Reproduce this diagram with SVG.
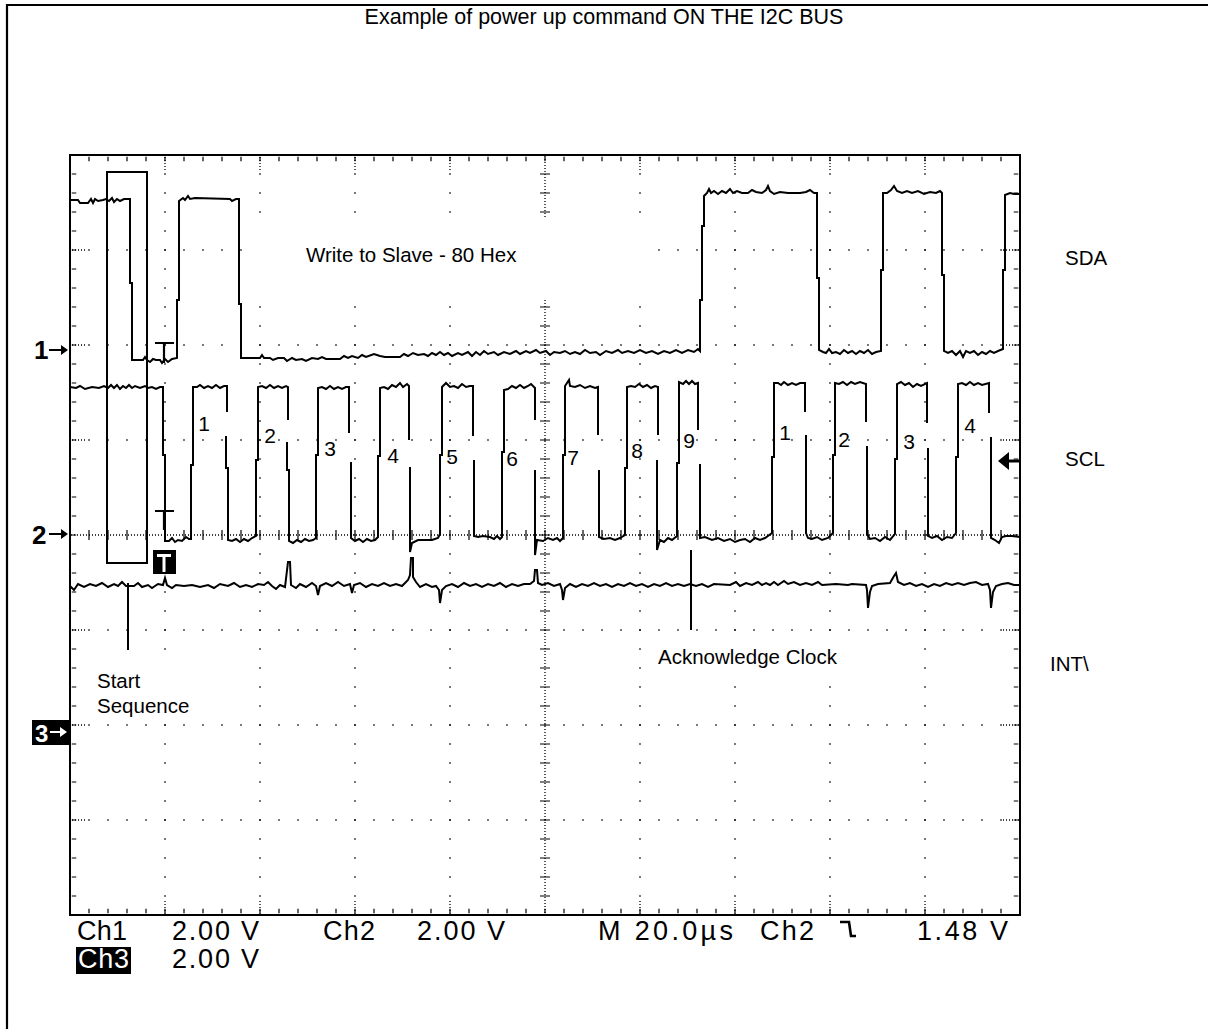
<svg xmlns="http://www.w3.org/2000/svg" width="1208" height="1029" viewBox="0 0 1208 1029">
<style>
.tr{fill:none;stroke:#000;stroke-width:2;stroke-linejoin:miter}
.ln{fill:none;stroke:#000;stroke-width:2}
.gd{fill:none;stroke:#000;stroke-width:1.4;stroke-dasharray:1.4 17.6}
.tk{fill:none;stroke:#000;stroke-width:1.3;stroke-dasharray:1 2}
.lbl{font-family:"Liberation Sans",Arial,sans-serif;font-size:20.5px;fill:#000}
.dg{font-family:"Liberation Sans",Arial,sans-serif;font-size:21px;fill:#000;text-anchor:middle}
.bot{font-family:"Liberation Sans",Arial,sans-serif;font-size:27px;fill:#000}
.ch{font-family:"Liberation Sans",Arial,sans-serif;font-size:26px;font-weight:bold}
</style>
<rect width="1208" height="1029" fill="#fff"/>
<g id="frame"><path d="M7,1029 L7,5 L1208,5" fill="none" stroke="#000" stroke-width="2.2"/></g>
<g id="title"><text x="604" y="24" class="lbl" style="font-size:21.5px" text-anchor="middle">Example of power up command ON THE I2C BUS</text></g>
<g id="graticule">
<rect x="70" y="155" width="950" height="760" fill="none" stroke="#000" stroke-width="2"/>
<g class="gd">
<path d="M165,154.3V916M260,154.3V916M355,154.3V916M450,154.3V916M640,154.3V916M735,154.3V916M830,154.3V916M925,154.3V916"/>
<path d="M69.3,250H1021M69.3,345H1021M69.3,440H1021M69.3,630H1021M69.3,725H1021M69.3,820H1021"/>
</g>
<g fill="none" stroke="#000" stroke-width="4.5" stroke-dasharray="1.2 17.8">
<path d="M69.4,159H1021M69.4,911H1021"/>
<path d="M74,154.4V916M1016,154.4V916"/>
</g>
<g class="tk">
<path d="M165,157V170M260,157V170M355,157V170M450,157V170M640,157V170M735,157V170M830,157V170M925,157V170"/>
<path d="M165,901V914M260,901V914M355,901V914M450,901V914M640,901V914M735,901V914M830,901V914M925,901V914"/>
<path d="M72,250H87M72,345H87M72,440H87M72,630H87M72,725H87M72,820H87"/>
<path d="M1003,250H1019M1003,345H1019M1003,440H1019M1003,630H1019M1003,725H1019M1003,820H1019"/>
<path d="M545,156V915M71,535H1019"/>
</g>
<g fill="none" stroke="#000" stroke-width="10" stroke-dasharray="1.2 17.8">
<path d="M545,154.4V916"/>
<path d="M69.4,535H1021"/>
</g>
</g>
<g id="label-backgrounds" fill="#fff">
<rect x="244" y="219" width="405" height="80"/>
<rect x="652" y="642" width="192" height="31"/>
<rect x="92" y="667" width="100" height="52"/>
</g>
<g id="markers">
<rect x="107" y="172" width="40" height="391" class="ln"/>
<path d="M155,343H174M164,343V363M155,511H174M164,511V530" fill="none" stroke="#000" stroke-width="2.2"/>
<rect x="153" y="550" width="23" height="24" fill="#000"/>
<path d="M157,555.5H171M164,555V572" fill="none" stroke="#fff" stroke-width="3"/>
<path d="M128,583V650M691,550V630" class="ln"/>
<text x="34" y="359" class="ch">1</text>
<path d="M49,350H63" class="ln"/><path d="M61,345L68,350L61,355Z"/>
<text x="32" y="544" class="ch">2</text>
<path d="M49,534H63" class="ln"/><path d="M61,529L68,534L61,539Z"/>
<rect x="32" y="720" width="37" height="25" fill="#000"/>
<text x="35" y="742" class="ch" style="fill:#fff;font-size:24px">3</text>
<path d="M50,732H62" stroke="#fff" stroke-width="2"/><path d="M60,727L67,732L60,737Z" fill="#fff"/>
<path d="M998,461L1009,452L1009,470Z"/><path d="M1006,461H1019" stroke="#000" stroke-width="3"/>
</g>
<g id="traces">
<path id="sda" class="tr" d="M70,200 L78,200 L80,203 L88,203 L91,199 L93,203 L95,199 L98,201 L103,200 L106,199 L109,201 L112,198 L114,202 L117,199 L120,201 L124,199 L130,199 L130,283 L132,283 L132,360 L143,360 L145,357 L147,360 L150,362 L153,359 L156,360 L160,360 L162,363 L165,359 L168,362 L172,359 L177,358 L177,300 L179,300 L179,201 L183,198 L185,200 L188,196 L190,199 L195,198 L230,199 L232,201 L236,199 L239,199 L239,304 L241,304 L241,358 L260,358 L262,355 L264,358 L270,358 L273,360 L278,358 L284,358 L287,361 L292,358 L296,360 L302,359 L306,361 L312,358 L318,359 L322,357 L326,359 L340,359 L344,356 L348,358 L352,356 L358,358 L362,355 L366,357 L374,354 L380,356 L385,357 L400,357 L404,354 L408,356 L413,353 L418,355 L424,354 L428,356 L432,353 L436,355 L440,352 L444,355 L448,353 L452,356 L458,353 L462,355 L468,352 L472,356 L476,352 L480,355 L484,351 L488,354 L494,352 L498,355 L504,352 L510,354 L516,351 L520,354 L526,351 L530,353 L536,350 L540,353 L546,351 L550,355 L554,352 L560,353 L565,351 L570,354 L575,352 L580,354 L585,350 L590,353 L596,352 L600,355 L606,351 L612,353 L618,350 L622,353 L628,351 L634,353 L640,350 L646,353 L652,351 L658,354 L664,351 L670,353 L676,350 L682,353 L688,350 L694,352 L698,349 L700,351 L700,300 L702,300 L702,226 L704,226 L704,196 L707,193 L709,189 L711,193 L714,191 L718,194 L722,191 L726,193 L730,189 L733,193 L737,191 L742,193 L748,193 L752,190 L756,192 L762,193 L766,190 L768,186 L770,191 L774,194 L780,192 L788,193 L800,193 L806,192 L810,190 L814,193 L817,193 L817,278 L819,278 L819,350 L823,352 L826,353 L829,349 L832,353 L836,352 L840,354 L844,350 L848,353 L852,351 L856,354 L860,351 L864,353 L868,350 L872,354 L876,352 L881,351 L881,270 L883,270 L883,193 L887,193 L891,190 L894,186 L897,191 L902,193 L907,191 L912,193 L918,191 L924,194 L930,192 L936,193 L940,191 L942,193 L942,275 L944,275 L944,351 L948,353 L952,351 L956,355 L960,351 L963,357 L966,351 L970,353 L974,351 L978,355 L982,352 L986,354 L990,351 L994,353 L998,351 L1003,349 L1003,270 L1005,270 L1005,195 L1010,193 L1014,194 L1020,194"/>
<path id="scl" class="tr" d="M70,387 L76,388 L80,386 L85,389 L92,387 L99,388 L104,386 L108,388 L111,385 L114,388 L117,385 L120,389 L123,386 L126,388 L129,385 L132,388 L135,386 L140,388 L145,386 L148,388 L152,387 L156,389 L160,387 L163,387 L163,455 L165,455 L165,541 L169,541 L172,538 L175,542 L178,540 L182,541 L186,537 L189,539 L191,539 L191,465 L193,465 L193,387 L197,387 L200,385 L204,388 L208,386 L212,388 L216,385 L220,388 L224,386 L227,386 L227,412 M226,436 L226,468 L228,468 L228,540 L232,541 L236,539 L240,542 L244,539 L248,541 L252,538 L256,536 L256,460 L258,460 L258,387 L262,386 L266,388 L270,385 L274,388 L278,386 L282,388 L286,386 L288,387 L288,420 M287,442 L287,470 L289,470 L289,541 L293,543 L297,540 L301,542 L305,539 L309,541 L313,540 L316,538 L316,455 L318,455 L318,388 L322,387 L326,389 L330,386 L334,389 L338,387 L342,389 L346,387 L349,387 L349,433 M351,462 L351,538 L355,541 L359,539 L363,542 L367,539 L371,541 L375,540 L378,537 L378,456 L380,456 L380,388 L384,387 L388,389 L392,385 L396,387 L400,383 L403,387 L407,384 L409,386 L409,440 M410,467 L410,552 L412,543 L418,540 L425,540 L432,540 L438,538 L440,534 L440,455 L442,455 L442,387 L446,383 L450,387 L454,386 L458,388 L462,384 L466,387 L470,386 L473,386 L473,436 M474,460 L474,536 L478,537 L483,536 L490,537 L494,539 L497,536 L500,539 L502,537 L502,452 L504,452 L504,390 L508,389 L512,386 L516,388 L520,385 L524,388 L528,386 L531,384 L535,388 L535,420 M535,470 L535,555 L537,540 L543,541 L548,538 L553,540 L557,538 L560,541 L563,538 L563,455 L565,455 L565,386 L569,380 L570,386 L575,387 L580,385 L585,388 L590,386 L595,388 L598,387 L598,435 M599,470 L599,537 L604,539 L610,538 L615,540 L620,538 L625,535 L625,468 L627,468 L627,387 L631,386 L635,387 L639,384 L643,387 L647,385 L651,388 L655,386 L658,387 L658,435 M657,460 L657,550 L660,540 L664,542 L668,538 L672,540 L677,536 L677,463 L679,463 L679,382 L683,384 L686,381 L689,384 L692,381 L695,384 L698,383 L698,430 M700,464 L700,538 L705,537 L712,540 L718,538 L724,541 L730,539 L735,542 L740,540 L745,539 L750,542 L755,538 L760,540 L765,538 L772,533 L772,457 L774,457 L774,383 L778,383 L781,385 L784,382 L788,385 L792,383 L796,385 L800,383 L805,383 L805,412 M806,435 L806,533 L808,538 L812,539 L817,537 L822,540 L828,538 L833,533 L833,455 L835,455 L835,383 L839,384 L843,382 L847,385 L851,382 L855,384 L860,382 L866,384 L866,422 M867,446 L867,534 L870,539 L875,538 L880,541 L885,537 L890,540 L895,534 L895,459 L897,459 L897,384 L901,382 L905,385 L909,383 L913,387 L917,384 L921,386 L927,383 L927,423 M928,448 L928,536 L932,538 L937,536 L942,540 L947,537 L952,538 L956,533 L956,457 L958,457 L958,384 L962,383 L966,385 L970,382 L974,385 L978,383 L982,385 L989,383 L989,413 M991,437 L991,538 L995,540 L999,543 L1002,537 L1006,536 L1012,536 L1020,537"/>
<path id="int" class="tr" d="M70,586 L74,590 L78,584 L84,587 L90,584 L96,586 L102,583 L108,587 L114,584 L118,586 L122,582 L126,586 L134,586 L138,583 L142,587 L148,585 L152,588 L158,584 L163,585 L165,578 L167,585 L172,588 L176,585 L184,586 L192,585 L200,587 L208,585 L214,588 L220,584 L228,586 L234,583 L240,587 L246,585 L252,587 L258,584 L264,585 L268,582 L272,586 L276,589 L280,585 L285,587 L288,562 L290,562 L291,585 L296,588 L300,584 L306,587 L312,583 L316,586 L318,595 L320,586 L326,583 L332,586 L338,582 L344,586 L350,584 L352,593 L354,585 L360,583 L366,587 L372,584 L378,586 L384,583 L390,586 L396,584 L402,586 L408,580 L410,575 L411,558 L413,558 L413,577 L416,582 L420,587 L426,584 L432,587 L436,586 L439,590 L440,603 L442,590 L446,586 L452,584 L458,587 L464,583 L470,586 L476,584 L482,587 L488,584 L494,586 L500,583 L506,587 L512,584 L518,586 L524,584 L530,584 L534,581 L535,570 L537,570 L538,583 L542,585 L548,583 L554,586 L560,584 L562,590 L563,600 L565,588 L570,584 L576,587 L582,584 L588,586 L594,583 L600,586 L606,584 L612,587 L618,584 L624,586 L630,583 L636,586 L642,584 L648,587 L654,584 L660,586 L666,583 L672,586 L678,584 L684,586 L690,584 L696,586 L702,584 L708,587 L714,584 L730,585 L736,582 L740,586 L746,583 L752,585 L758,582 L762,585 L766,583 L770,585 L774,582 L778,585 L784,581 L788,584 L794,582 L800,585 L806,583 L812,585 L818,582 L822,585 L836,584 L848,585 L852,584 L866,585 L867,590 L868,608 L870,592 L872,586 L878,584 L890,583 L894,576 L896,573 L898,582 L904,585 L910,583 L916,586 L922,584 L928,587 L934,584 L940,586 L946,583 L952,585 L958,583 L964,585 L970,583 L976,582 L982,585 L988,584 L990,590 L991,608 L993,592 L996,586 L1002,584 L1008,583 L1014,585 L1020,585"/>
</g>
<g id="labels">
<text x="306" y="262" class="lbl">Write to Slave - 80 Hex</text>
<text x="658" y="664" class="lbl">Acknowledge Clock</text>
<text x="97" y="688" class="lbl">Start</text>
<text x="97" y="713" class="lbl">Sequence</text>
<text x="1065" y="265" class="lbl">SDA</text>
<text x="1065" y="466" class="lbl">SCL</text>
<text x="1050" y="671" class="lbl">INT\</text>
<text x="204" y="431" class="dg">1</text>
<text x="270" y="443" class="dg">2</text>
<text x="330" y="456" class="dg">3</text>
<text x="393" y="463" class="dg">4</text>
<text x="452" y="464" class="dg">5</text>
<text x="512" y="466" class="dg">6</text>
<text x="573" y="465" class="dg">7</text>
<text x="637" y="458" class="dg">8</text>
<text x="689" y="448" class="dg">9</text>
<text x="785" y="440" class="dg">1</text>
<text x="844" y="447" class="dg">2</text>
<text x="909" y="449" class="dg">3</text>
<text x="970" y="433" class="dg">4</text>
</g>
<g id="readout">
<text x="77" y="940" class="bot" textLength="50">Ch1</text>
<text x="172" y="940" class="bot" textLength="87">2.00 V</text>
<text x="323" y="940" class="bot" textLength="52">Ch2</text>
<text x="417" y="940" class="bot" textLength="88">2.00 V</text>
<text x="598" y="940" class="bot" textLength="135">M 20.0µs</text>
<text x="760" y="940" class="bot" textLength="54">Ch2</text>
<path d="M840,922H849L851,936H856" fill="none" stroke="#000" stroke-width="2.6"/>
<text x="917" y="940" class="bot" textLength="91">1.48 V</text>
<rect x="76" y="947" width="55" height="27" fill="#000"/>
<text x="78" y="968" class="bot" textLength="51" style="fill:#fff">Ch3</text>
<text x="172" y="968" class="bot" textLength="87">2.00 V</text>
</g>
</svg>
